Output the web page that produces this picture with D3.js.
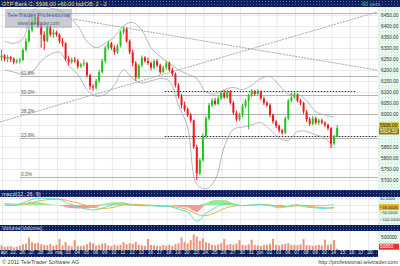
<!DOCTYPE html>
<html>
<head>
<meta charset="utf-8">
<script src="https://cdn.jsdelivr.net/npm/d3@7"></script>
<style>
  body { margin: 0; background: #fff; }
  svg { display: block; font-family: "Liberation Sans", Arial, sans-serif; }
</style>
</head>
<body>
<svg id="vis" width="400" height="266"></svg>
<script>
// trading days on the x axis (month name replaces the first day of a month)
const dayLabels = ["ápr","22","26","27","28","29","máj","03","04","05","06","09","10","11","12","13","16","17","18","19","20",
  "23","24","25","26","27","30","31","jún","02","03","06","07","08","09","10","14","15","16","17","20"];

// 60 minute candles, 3 per day
const firstOpen = 6255;
const closes = [
  6265,6250,6258, 6250,6235,6240, 6245,6290,6330, 6380,6420,6440, 6400,6360,6330, 6395,6360,6370,
  6360,6330,6320, 6250,6235,6245, 6240,6215,6225, 6230,6175,6125, 6120,6150,6190, 6240,6300,6320,
  6300,6280,6310, 6370,6385,6330, 6280,6230,6165, 6220,6255,6240, 6230,6210,6240, 6220,6190,6210,
  6230,6200,6180, 6130,6080,6040, 6020,5995,5970, 5850,5730,5790, 5900,5980,6040, 6060,6045,6070,
  6095,6075,6100, 6050,6005,5975, 5995,6035,6060, 6085,6100,6090, 6100,6070,6050, 6040,5995,5965,
  5945,5925,5915, 5980,6060,6075, 6085,6060,6050, 6010,5975,5955, 5980,5960,5970, 5960,5950,5935,
  5865,5900,5936
];
const highs = [
  6290,6272,6268, 6262,6256,6250, 6255,6300,6345, 6395,6440,6455, 6452,6410,6375, 6405,6400,6385,
  6378,6365,6345, 6325,6262,6255, 6258,6250,6232, 6245,6236,6182, 6135,6160,6200, 6250,6310,6332,
  6328,6312,6318, 6378,6395,6392, 6338,6290,6240, 6228,6265,6262, 6255,6238,6248, 6248,6228,6218,
  6240,6238,6210, 6188,6140,6090, 6055,6030,6005, 5975,5860,5800, 5910,5990,6050, 6070,6072,6080,
  6105,6108,6110, 6108,6058,6015, 6005,6045,6068, 6092,6112,6108, 6112,6105,6078, 6058,6048,6002,
  5972,5952,5932, 5988,6068,6095, 6098,6092,6068, 6055,6018,5985, 5990,5988,5978, 5978,5966,5956,
  5940,5905,5950
];
const lows = [
  6240,6238,6235, 6235,6225,6228, 6228,6240,6282, 6322,6370,6405, 6390,6300,6290, 6325,6350,6345,
  6350,6320,6305, 6240,6220,6228, 6232,6205,6208, 6215,6165,6110, 6105,6110,6140, 6182,6230,6290,
  6290,6268,6272, 6302,6360,6322, 6270,6215,6150, 6158,6210,6232, 6222,6198,6202, 6212,6180,6185,
  6200,6192,6172, 6120,6070,6025, 6010,5985,5960, 5840,5700,5722, 5782,5890,5970, 6030,6038,6040,
  6062,6068,6068, 6042,5995,5965, 5968,5985,6025, 5930,6075,6082, 6085,6062,6040, 6030,5985,5955,
  5935,5915,5905, 5908,5972,6052, 6068,6052,6040, 6000,5962,5945, 5948,5952,5950, 5952,5940,5925,
  5845,5858,5895
];
const volumes = [
  180,120,140, 150,100,130, 160,220,250, 480,300,260, 280,220,200, 180,240,160,
  200,420,180, 300,170,140, 380,160,150, 170,220,300, 260,180,200, 240,260,180,
  150,200,170, 200,300,220, 260,240,310, 200,180,160, 420,200,180, 160,150,190,
  170,200,160, 220,260,480, 300,250,380, 600,520,350, 450,300,260, 200,180,220,
  260,420,200, 230,200,250, 380,200,180, 220,400,200, 180,160,200, 200,240,420,
  200,180,220, 240,260,200, 190,180,220, 420,200,180, 160,180,200, 180,400,200,
  220,380,51
];

// bollinger bands, one value per day
const bbUpper = [6330,6320,6340,6460,6490,6480,6470,6440,6400,6330,6300,6320,6350,6400,6415,6380,6300,6260,6230,
  6200,6180,6160,6100,6090,6110,6120,6110,6130,6160,6170,6130,6090,6090,6060,6010,5995,5985];
const bbLower = [6200,6190,6180,6190,6240,6270,6280,6220,6180,6110,6080,6090,6130,6200,6160,6140,6150,6160,6150,
  6040,5940,5680,5660,5700,5850,5930,5940,5950,5960,5930,5890,5880,5920,5920,5905,5890,5845];

// macd(12, 26, 9), one value per day
const macdLine = [5,0,15,40,50,45,40,10,-10,-30,-35,-15,5,15,0,-5,-5,-10,-10,-30,-50,-115,-60,-20,10,5,-5,0,5,-5,-20,-10,0,-15,-20,-25,-15];
const signalLine = [10,6,6,18,32,40,42,30,15,-5,-20,-25,-15,0,5,2,-2,-6,-8,-18,-32,-65,-75,-55,-25,-8,-3,-2,2,0,-10,-12,-6,-8,-14,-20,-22];

const priceGrid = [5700,5750,5800,5850,5900,5950,6000,6050,6100,6150,6200,6250,6300,6350,6400,6450];
const priceTicks = [5700,5750,5800,5850,5950,6000,6050,6100,6150,6200,6250,6300,6350,6400,6450];
const macdTicks = [50, -50, -100];
const volTicks = [500000];

const fibLevels = [0, 23.6, 38.2, 50, 61.8, 100];
const fibLow = 5713, fibHigh = 6457;
const trendLines = [[[0, 5963], [41.2, 6462]], [[8, 6430], [41.2, 6199]]];
const dottedLevels = [[18, 6105, 38.8], [18, 5900, 41.3]];
const lastClose = 5936, lastBid = 5914.5, lastMacd = -15.0026, lastVol = 50850;

const plotW = 378;
const svg = d3.select("#vis");
const defs = svg.append("defs");

function dotPattern(id, base, dot) {
  let p = defs.append("pattern").attr("id", id).attr("width", 3).attr("height", 3)
    .attr("patternUnits", "userSpaceOnUse");
  p.append("rect").attr("width", 3).attr("height", 3).attr("fill", base);
  p.append("rect").attr("x", 1).attr("y", 1).attr("width", 1).attr("height", 1).attr("fill", dot);
}
dotPattern("navy", "#0f1f5e", "#4d67ad");
dotPattern("mint", "#e7f8ef", "#bfe6d2");

defs.append("clipPath").attr("id", "clipPrice").append("rect")
  .attr("x", 0).attr("y", 7).attr("width", plotW).attr("height", 183);
defs.append("clipPath").attr("id", "clipMacd").append("rect")
  .attr("x", 0).attr("y", 197).attr("width", plotW).attr("height", 28);

const x = d3.scaleLinear().domain([0, 41.3]).range([0, plotW]);
const y = d3.scaleLinear().domain([5700, 6450]).range([180, 14.7]);
const yM = d3.scaleLinear().domain([0, 50]).range([205, 198]);
const yV = d3.scaleLinear().domain([0, 500000]).range([250, 237]);

// backgrounds
svg.append("rect").attr("x", plotW).attr("y", 0).attr("width", 400 - plotW).attr("height", 250).attr("fill", "url(#mint)");
let bars = [[0, 7], [190, 7], [225, 6]];
bars.forEach(b => {
  svg.append("rect").attr("x", 0).attr("y", b[0]).attr("width", 400).attr("height", b[1]).attr("fill", "url(#navy)");
});
svg.append("rect").attr("x", 0).attr("y", 250).attr("width", plotW).attr("height", 7).attr("fill", "url(#navy)");

// grid
let grid = svg.append("g").attr("stroke", "#e9e9e9").attr("stroke-width", 1);
d3.range(0, dayLabels.length, 2).forEach(d => {
  [[7, 190], [197, 225], [231, 250]].forEach(r => {
    grid.append("line").attr("x1", x(d) + 2.5).attr("x2", x(d) + 2.5).attr("y1", r[0]).attr("y2", r[1]);
  });
});
priceGrid.forEach(v => {
  grid.append("line").attr("x1", 0).attr("x2", plotW).attr("y1", Math.round(y(v)) + 0.5).attr("y2", Math.round(y(v)) + 0.5);
});
[50, 0, -50, -100].forEach(v => {
  grid.append("line").attr("x1", 0).attr("x2", plotW).attr("y1", Math.round(yM(v)) + 0.5).attr("y2", Math.round(yM(v)) + 0.5);
});

let price = svg.append("g").attr("clip-path", "url(#clipPrice)");

// fibonacci retracement
fibLevels.forEach(p => {
  let v = fibLow + (fibHigh - fibLow) * p / 100;
  let yy = Math.round(y(v)) + 0.5;
  price.append("line").attr("x1", 20).attr("x2", plotW).attr("y1", yy).attr("y2", yy)
    .attr("stroke", "#b4b4b4").attr("stroke-width", 1);
  if (p < 100) {
    price.append("text").attr("x", 21).attr("y", yy - 1.5).attr("font-size", 4.8).attr("fill", "#555")
      .text(p.toFixed(1) + "%");
  }
});

// trend lines
trendLines.forEach(t => {
  price.append("line")
    .attr("x1", x(t[0][0])).attr("y1", y(t[0][1]))
    .attr("x2", x(t[1][0])).attr("y2", y(t[1][1]))
    .attr("stroke", "#a8a8a8").attr("stroke-width", 1).attr("stroke-dasharray", "2,1");
});

// dotted support / resistance
dottedLevels.forEach(l => {
  let yy = Math.round(y(l[1])) + 0.5;
  price.append("line").attr("x1", x(l[0])).attr("x2", x(l[2])).attr("y1", yy).attr("y2", yy)
    .attr("stroke", "#333").attr("stroke-width", 1).attr("stroke-dasharray", "1.5,1.5");
});

// bollinger bands
let bandLine = d3.line().x((d, i) => x(i + 0.5)).y(d => y(d)).curve(d3.curveCatmullRom);
[bbUpper, bbLower].forEach(b => {
  price.append("path").attr("d", bandLine(b)).attr("fill", "none")
    .attr("stroke", "#a6a6a6").attr("stroke-width", 0.8);
});

// candles
let candles = closes.map((c, i) => ({
  t: Math.floor(i / 3) + (i % 3 + 0.5) / 3,
  o: i == 0 ? firstOpen : closes[i - 1],
  c: c, h: highs[i], l: lows[i]
}));
let cg = price.selectAll("g.candle").data(candles).enter().append("g")
  .attr("fill", d => d.c >= d.o ? "#22c322" : "#ec1b1b")
  .attr("stroke", d => d.c >= d.o ? "#22c322" : "#ec1b1b");
cg.append("line")
  .attr("x1", d => x(d.t)).attr("x2", d => x(d.t))
  .attr("y1", d => y(d.h)).attr("y2", d => y(d.l)).attr("stroke-width", 1);
cg.append("rect")
  .attr("x", d => x(d.t) - 1).attr("width", 2)
  .attr("y", d => y(Math.max(d.o, d.c)))
  .attr("height", d => Math.max(1, Math.abs(y(d.o) - y(d.c))))
  .attr("stroke", "none");

// watermark
svg.append("rect").attr("x", 5).attr("y", 9).attr("width", 67).attr("height", 19)
  .attr("fill", "#9ea2ac").attr("opacity", 0.55);
svg.append("text").attr("x", 38.5).attr("y", 17).attr("text-anchor", "middle")
  .attr("font-size", 6).attr("fill", "#3c5cb8").text("TeleTrader Professional");
svg.append("text").attr("x", 38.5).attr("y", 24.5).attr("text-anchor", "middle")
  .attr("font-size", 4.8).attr("fill", "#4d5f90").text("www.teletrader.com");

// macd
let macd = svg.append("g").attr("clip-path", "url(#clipMacd)");
let hist = macdLine.map((m, i) => m - signalLine[i]);
let area = d3.area().x((d, i) => x(i + 0.5)).y0(yM(0)).curve(d3.curveMonotoneX);
macd.append("path").attr("d", area.y1(d => yM(Math.max(0, d)))(hist)).attr("fill", "#9be89b");
macd.append("path").attr("d", area.y1(d => yM(Math.min(0, d)))(hist)).attr("fill", "#f29a9a");
let mline = d3.line().x((d, i) => x(i + 0.5)).y(d => yM(d)).curve(d3.curveCatmullRom);
macd.append("path").attr("d", mline(signalLine)).attr("fill", "none").attr("stroke", "#f2b03c").attr("stroke-width", 1);
macd.append("path").attr("d", mline(macdLine)).attr("fill", "none").attr("stroke", "#4fe6c8").attr("stroke-width", 1);

// volume
svg.append("g").selectAll("rect").data(candles).enter().append("rect")
  .attr("x", d => x(d.t) - 1).attr("width", 2)
  .attr("y", (d, i) => yV(volumes[i] * 1000))
  .attr("height", (d, i) => yV(0) - yV(volumes[i] * 1000))
  .attr("fill", "#ec9478");

// axes
function styleAxis(g, color, size) {
  g.select(".domain").remove();
  g.selectAll("text").attr("font-size", size).attr("font-family", "Liberation Sans, Arial, sans-serif").attr("fill", color);
}
svg.append("g").attr("transform", "translate(381,0)")
  .call(d3.axisRight(y).tickValues(priceTicks).tickFormat(d3.format(".2f")).tickSize(0).tickPadding(0))
  .call(g => styleAxis(g, "#333", 4.8));
svg.append("g").attr("transform", "translate(380,0)")
  .call(d3.axisRight(yM).tickValues(macdTicks).tickFormat(d3.format(".4f")).tickSize(0).tickPadding(0))
  .call(g => styleAxis(g, "#333", 4.2));
svg.append("g").attr("transform", "translate(381,0)")
  .call(d3.axisRight(yV).tickValues(volTicks).tickFormat(d3.format("d")).tickSize(0).tickPadding(0))
  .call(g => styleAxis(g, "#333", 4.8));
svg.append("g").attr("transform", "translate(3.5,250)")
  .call(d3.axisBottom(x).tickValues(d3.range(dayLabels.length)).tickFormat(i => dayLabels[i]).tickSize(0).tickPadding(1))
  .call(g => styleAxis(g, "#e6e6cf", 4.6));

// value boxes on the axis
function valueBox(yy, label, fill, color, size) {
  svg.append("rect").attr("x", 379).attr("y", yy - 3).attr("width", 20).attr("height", 6).attr("fill", fill);
  svg.append("text").attr("x", 380).attr("y", yy + 1.8).attr("font-size", size).attr("fill", color).text(label);
}
valueBox(y(lastClose) - 2.5, d3.format(".2f")(lastClose), "#d2bd1e", "#222", 4.8);
valueBox(y(lastClose) + 3.5, d3.format(".2f")(lastBid), "#8c7a10", "#fff", 4.8);
valueBox(yM(lastMacd), d3.format(".4f")(lastMacd), "#e8b020", "#222", 4.2);
valueBox(yV(lastVol) - 2, lastVol, "#e23232", "#fff", 4.8);

// header and panel titles
svg.append("text").attr("x", 2).attr("y", 5.5).attr("font-size", 5.5).attr("fill", "#e8e070")
  .text("OTP Bank C: 5936.00 +60.00 bid/OB: 2 - 2");
svg.append("text").attr("x", 362).attr("y", 5.5).attr("font-size", 5.5).attr("fill", "#3ed23e").text("60 perc");
svg.append("text").attr("x", 2).attr("y", 195.5).attr("font-size", 5.5).attr("fill", "#d8def0").text("macd(12, 26, 9)");
svg.append("text").attr("x", 2).attr("y", 230).attr("font-size", 5.5).attr("fill", "#d8def0").text("Volume(Volume)");

// footer
svg.append("text").attr("x", 2).attr("y", 264).attr("font-size", 5.5).attr("fill", "#444")
  .text("© 2011 TeleTrader Software AG");
svg.append("text").attr("x", 398).attr("y", 264).attr("text-anchor", "end").attr("font-size", 5.5).attr("fill", "#444")
  .text("http://professional.teletrader.com");
</script>
</body>
</html>
